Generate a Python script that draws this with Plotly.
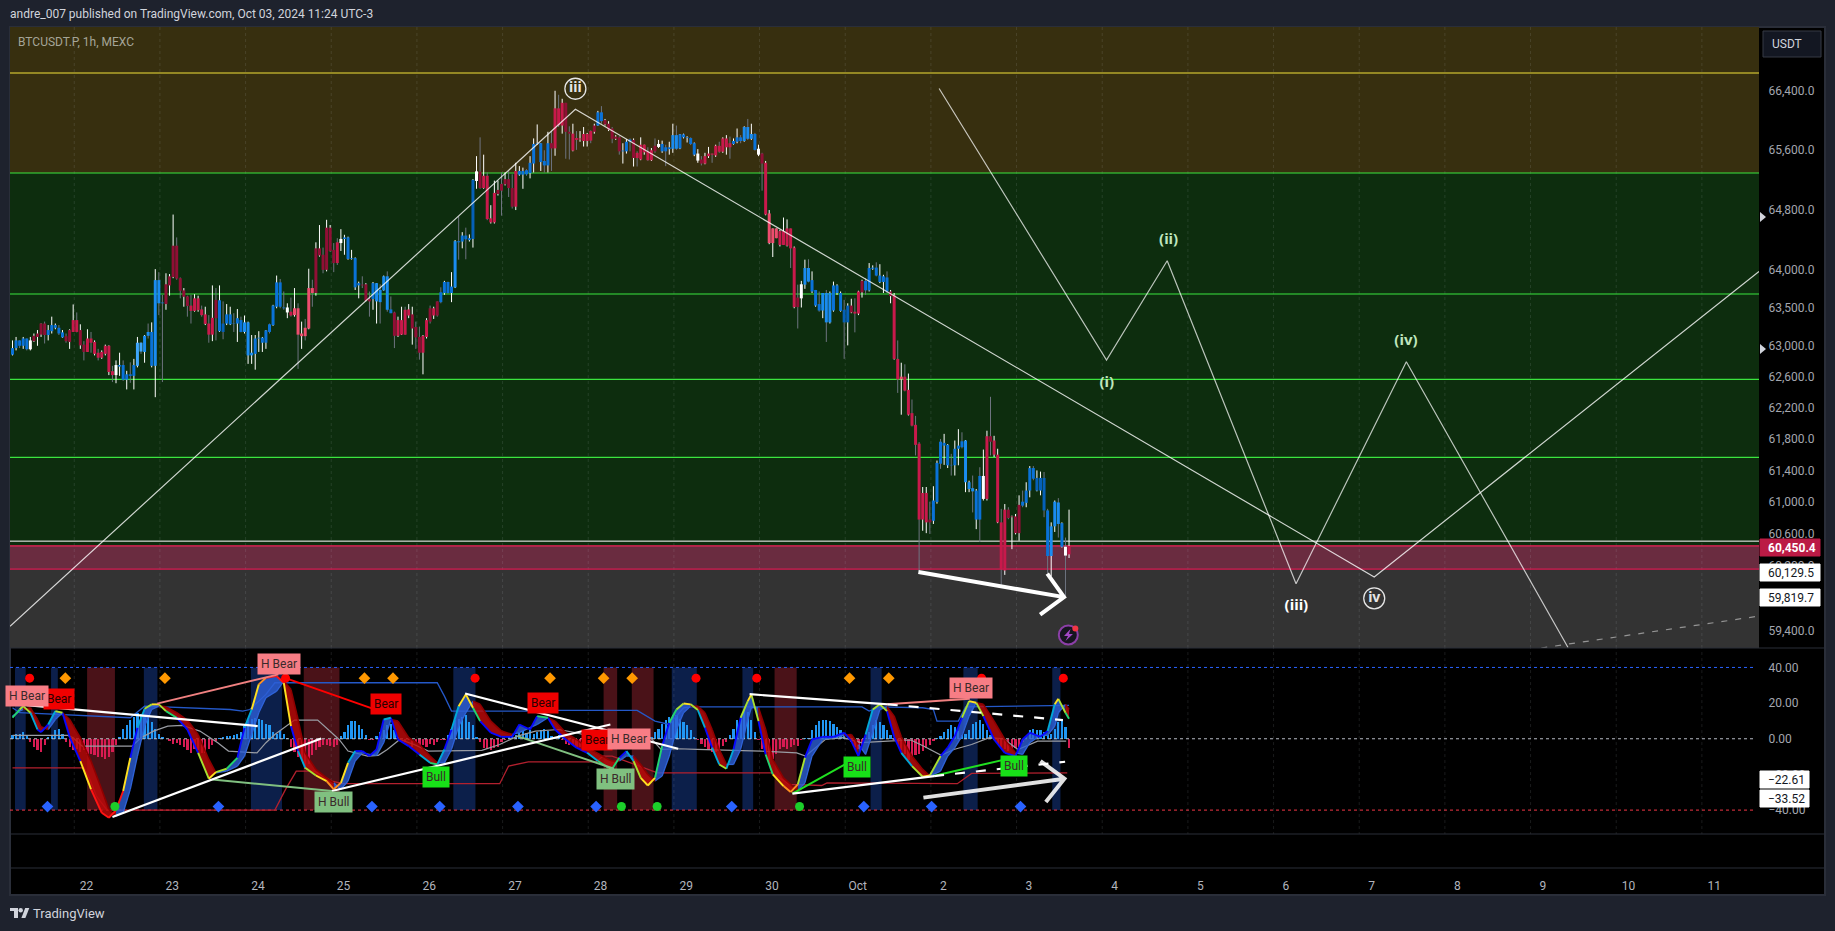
import math
import pandas as pd
import plotly.graph_objects as go

W, H = 1835, 931
PANEL = "#1e222d"
LINE = "#2a2e39"
FONT = "Roboto, 'Noto Sans', sans-serif"

# ---------------- candles (1h, BTCUSDT.P) ----------------
start_time = "2024-09-21 06:42"
open_ = [
62885,62970,63000,63000,62955,63070,63130,63160,63290,63290,
63140,63190,63235,63160,63110,63125,63205,63335,63335,63205,
63015,63095,63095,63050,62910,62920,63000,63000,62670,62750,
62730,62560,62560,62610,62610,62740,62925,62920,63130,62740,
62740,63555,63555,63805,63910,64315,64315,63885,63725,63645,
63525,63620,63620,63475,63410,63290,63365,63600,63190,63180,
63290,63280,63285,63290,63180,63180,62875,62875,62895,63095,
63040,63040,63180,63270,63510,63510,63490,63500,63445,63490,
63490,63160,63235,63755,63755,64280,64280,64195,64555,64555,
64260,64360,64405,64405,64140,64140,63765,63790,63800,63805,
63610,63610,63580,63570,63725,63470,63425,63435,63335,63335,
63470,63475,63410,63245,63115,63130,63335,63490,63490,63580,
63570,63690,63690,63690,63765,64360,64370,64400,64390,64405,
65310,65305,65250,65250,64680,65020,65060,65140,65205,65205,
65085,65315,65265,65265,65270,65285,65415,65680,65435,65390,
65390,65690,66165,66165,66240,66240,65845,65820,65760,65755,
65815,65815,65855,65930,65930,65990,66005,65955,65890,65780,
65770,65580,65580,65710,65735,65560,65670,65670,65580,65595,
65655,65680,65580,65580,65610,65615,65615,65620,65770,65760,
65680,65535,65550,65470,65515,65550,65550,65655,65655,65755,
65755,65690,65680,65710,65720,65720,65750,65750,65600,65615,
65550,65425,64745,64545,64545,64510,64510,64545,64545,64290,
63630,63805,63800,63840,63710,63525,63460,63460,63305,63305,
63460,63690,63455,63305,63305,63525,63445,63710,63850,63725,
63725,64010,63920,63835,63835,63710,63710,63660,62830,62600,
62600,62430,62130,61980,61740,61115,61115,60780,60765,61000,
61485,61715,61465,61465,61465,61675,61695,61250,61165,61135,
60780,60780,61330,61835,61835,61780,61600,60745,60905,60905,
60820,60820,60965,60955,60990,61145,61295,61145,61145,60895,
60325,60325,60695,60725,60440,60440,60345]
high = [
63070,63115,63072,63115,63095,63115,63160,63205,63290,63315,
63270,63380,63290,63270,63205,63160,63215,63540,63435,63280,
63060,63215,63180,63070,62960,62940,63015,63005,62740,62810,
62910,62810,62675,62785,62830,63115,63050,63140,63290,63305,
64005,63965,63665,63950,63940,64730,64425,63895,63755,63655,
63665,63675,63655,63525,63510,63400,63790,63755,63790,63580,
63545,63510,63425,63480,63380,63395,63315,63140,63140,63190,
63115,63205,63290,63535,63920,63875,63710,63555,63630,63755,
63555,63315,63350,64010,63865,64360,64590,64290,64660,64590,
64350,64415,64535,64460,64435,64260,64160,63840,63910,63820,
63710,63835,63820,63805,63920,63975,63645,63445,63380,63510,
63510,63545,63510,63315,63250,63140,63360,63525,63510,63580,
63765,63850,63840,63965,64390,64705,64495,64555,64465,65205,
65515,65770,65535,65295,64855,65185,65185,65295,65295,65315,
65270,65425,65380,65360,65340,65515,65755,65945,65690,65595,
65845,65855,66405,66350,66295,66240,65920,65955,65855,65855,
65910,65830,65865,65955,66130,66195,66020,65990,65910,65800,
65785,65690,65745,65755,65755,65580,65770,65670,65635,65625,
65755,65735,65725,65670,65710,65955,65930,65815,65820,65785,
65770,65700,65610,65515,65560,65640,65550,65670,65710,65770,
65800,65780,65755,65890,65800,65920,66020,65955,65830,65670,
65560,65450,64790,64545,64545,64525,64690,64665,64545,64305,
63800,63850,64130,64135,63975,63730,63710,63690,63730,63710,
63840,63805,63710,63600,63555,63615,63620,63720,63865,63885,
64085,64055,64095,64070,63930,63975,63730,63690,63070,62780,
62760,62640,62305,62095,61760,61190,61190,61005,61200,61525,
61800,61865,61735,61610,61780,61925,61885,61785,61270,61335,
61165,61440,61665,61905,62340,61840,61675,60915,60975,60935,
60830,60850,61085,61145,61250,61455,61455,61400,61385,61380,
60915,60745,61020,61050,60745,60555,60905]
low = [
62875,62940,62970,62960,62940,62940,63050,63000,63115,63030,
63070,63160,63215,63140,63105,63040,62960,63180,63175,62960,
62810,62920,62910,62875,62810,62830,62875,62620,62530,62515,
62610,62545,62435,62520,62435,62720,62895,62780,63095,62720,
62335,63400,62530,63470,63655,63885,63865,63620,63510,63380,
63290,63445,63445,63380,63270,63040,63060,63070,63180,63085,
63270,63270,63180,63050,63175,63160,62765,62765,62690,62920,
62920,62960,63160,63260,63490,63490,63470,63360,63380,63380,
62700,62960,63070,63215,63510,63655,64170,63950,63975,64240,
63965,64060,64245,64195,64130,64130,63730,63620,63755,63580,
63380,63470,63290,63290,63720,63445,63425,62970,63115,63140,
63140,63360,63015,62960,62820,62630,63095,63290,63350,63380,
63555,63665,63680,63570,63755,64130,64280,64135,64370,64290,
65075,65075,65075,64655,64610,64610,64985,64715,65120,64965,
64810,64790,65250,65075,65250,65215,65295,65670,65315,65295,
65295,65315,65520,65910,65820,65480,65470,65580,65600,65710,
65645,65645,65690,65820,65925,65955,65930,65855,65690,65735,
65535,65415,65550,65580,65375,65375,65460,65535,65450,65450,
65560,65625,65560,65380,65535,65560,65600,65610,65755,65700,
65665,65515,65425,65390,65405,65490,65425,65505,65560,65560,
65535,65480,65670,65690,65690,65710,65735,65735,65590,65515,
65050,64720,64335,64165,64415,64305,64325,64305,64020,63490,
63225,63500,63745,63830,63690,63510,63445,63360,63050,63290,
63445,63665,63445,62830,63005,63425,63175,63400,63630,63665,
63710,63995,63910,63820,63690,63690,63555,62820,62390,62110,
62410,62100,61960,61590,60130,60640,60610,60600,60725,60980,
61420,61470,61430,61335,61335,61465,61680,61125,61125,60870,
60660,60500,61020,61020,61590,61570,60735,59945,60090,60785,
60410,60595,60515,60935,60935,61060,61275,61135,61085,60810,
60110,60070,60625,60555,60430,59820,60300]
close = [
62970,63070,63070,63095,63095,62955,63060,63115,63145,63140,
63205,63270,63270,63235,63175,63060,63050,63180,63180,63005,
62920,62920,63040,62895,62845,62845,62895,62660,62620,62620,
62750,62750,62630,62630,62750,63040,63040,63130,63180,63180,
63860,63860,63565,63545,63790,63900,63880,63720,63640,63520,
63455,63455,63465,63400,63285,63145,63145,63360,63595,63290,
63410,63410,63290,63360,63335,63305,63305,62910,63095,63105,
63105,63200,63280,63525,63830,63830,63500,63435,63395,63400,
63145,63125,63125,63225,63690,63690,64185,63995,63995,64245,
64085,64085,64350,64425,64425,64150,64150,63820,63790,63590,
63580,63820,63820,63730,63910,63910,63475,63130,63130,63145,
63145,63395,63225,63110,62910,62910,63115,63315,63395,63395,
63700,63835,63835,63775,64375,64375,64450,64450,64415,65195,
65180,65085,65085,64670,64625,64625,65005,65050,65135,65085,
64835,64835,65315,65315,65325,65425,65680,65690,65690,65450,
65690,65620,65620,65930,65930,65845,65820,65590,65735,65740,
65720,65720,65725,65845,66110,66110,65945,65875,65750,65750,
65580,65590,65710,65740,65490,65490,65470,65567,65460,65460,
65580,65640,65680,65635,65635,65800,65800,65810,65810,65770,
65760,65690,65455,65415,65415,65515,65535,65525,65575,65575,
65635,65635,65720,65770,65770,65910,65910,65815,65815,65535,
65415,64730,64350,64350,64415,64325,64325,64315,64280,63505,
63505,63620,64020,64020,63860,63730,63545,63690,63690,63690,
63790,63790,63690,63470,63525,63435,63420,63420,63700,63850,
64020,64025,64025,63920,63910,63895,63650,62830,62565,62565,
62420,62110,61970,61725,60780,60780,60745,60745,61020,61495,
61765,61750,61725,61470,61675,61715,61770,61780,61250,61175,
61145,61330,61040,61040,61765,61600,60745,60155,60145,60800,
60810,60610,60610,61005,61145,61430,61430,61305,61305,61305,
60895,60695,61005,60995,60735,60330,60450.4]
candle_shade = (
"bbbbbwdddd" "bbbbbddrrd" "drrrrrrrrw" "bbbbbLLBBb" "BBbddddddd"
"rrrrrrrdbD" "bbbbbBBBbb" "bbbbbbbwrp" "pppppddddd" "drwbbbbbdd"
"dbBBBBbdrr" "rrdddrrdrd" "bbbbBbbbbD" "wdrrrrdddd" "drbbbbbbbb"
"bdrrrddrrr" "rrrdbbdddd" "dbbbdrrrrr" "dwbbbBBbbb" "bbwdrrrrrr"
"rrbbbBBBbw" "drppprrrrr" "dwBBbbbBBB" "bbbDDdrrdb" "bbbbbbdrrp"
"rrrrrrrdbb" "bbbbbbbBBB" "bbwrdrrrrd" "dddbbbbDDD" "bBBBbwr")
gray_wick_index = [2,4,9,13,15,18,20,22,24,28,31,33,36,38,41,42,46,47,49,50,53,55,57,59,62,64,72,75,
    76,78,80,82,84,87,90,91,98,100,103,105,106,107,110,113,114,117,119,120,122,125,127,131,133,137,
    139,140,144,149,151,153,155,156,158,162,165,168,170,173,175,178,180,183,186,190,193,196,198,201,
    204,206,208,210,218,220,223,226,228,233,236,239,242,245,248,250,252,253,254,257,260,263,266,269,
    271,274,277,279,283,286,289,290,293,295]
shade_color = {"b": "#0a72d8", "B": "#1a8cf0", "L": "#3fa6fb", "D": "#0560b8",
               "r": "#c8194b", "d": "#8f0f35", "p": "#ee4d6e", "w": "#ffffff"}

# ---------------- price levels ----------------
level_yellow = 66650
levels_green = [65287, 63678, 62565, 61566]
level_white = 60510
level_last = 60450.4
level_band_low = 60161
price_ticks = [66400,65600,64800,64000,63500,63000,62600,62200,61800,61400,61000,60600,60200,59400]
price_ticklabels = ["66,400.0","65,600.0","64,800.0","64,000.0","63,500.0","63,000.0","62,600.0","62,200.0",
                    "61,800.0","61,400.0","61,000.0","60,600.0","60,200.0","59,400.0"]

# ---------------- drawings on the price pane ----------------
path1_t = ["2024-09-21 06:00","2024-09-27 20:24","2024-10-07 04:12","2024-10-11 16:00"]
path1_p = [59457, 66153, 60065, 63975]
path2_t = ["2024-10-02 02:18","2024-10-04 01:12","2024-10-04 18:12","2024-10-06 06:18","2024-10-07 13:12","2024-10-09 10:30"]
path2_p = [66437, 62815, 64116, 59980, 62793, 59196]
dash_t = ["2024-10-09 03:00","2024-10-11 14:54"]
dash_p = [59190, 59574]
arrow_t = ["2024-10-01 20:30","2024-10-03 13:18","2024-10-03 08:36","2024-10-03 13:18","2024-10-03 06:36"]
arrow_p = [60125, 59815, 60105, 59815, 59600]
wave_txt = ["(i)","(ii)","(iii)","(iv)"]
wave_t = ["2024-10-04 01:18","2024-10-04 18:36","2024-10-06 06:24","2024-10-07 13:06"]
wave_p = [62516, 64383, 59706, 63054]
circ_txt = ["iii","iv"]
circ_t = ["2024-09-27 20:24","2024-10-07 04:12"]
circ_p = [66433, 59800]

# ---------------- oscillator pane ----------------
osc_i = [0,2,3,5,7,8,10,12,14,16,19,22,25,27,29,31,33,35,37,39,41,43,46,49,52,55,57,60,63,65,67,69,71,74,76,78,80,82,85,88,90,92,94,96,98,
         100,102,104,106,108,111,114,117,119,121,123,125,127,129,131,134,137,140,142,145,147,150,152,155,158,161,164,167,168,170,172,174,176,178,
         180,182,184,186,188,190,192,194,196,198,200,202,204,206,207,209,211,213,216,218,220,222,224,227,230,233,235,237,239,241,243,245,247,249,
         252,255,257,260,262,264,266,268,270,272,275,278,281,283,285,288,290,292,293,295,296]
osc_fast = [11.8,16.4,18.3,14.6,5.2,3.7,8.0,15.5,14.6,1.1,-12.5,-28.4,-41.5,-44.3,-40,-29.3,-10.7,6.2,16.8,19.3,19.3,15.5,11.8,5.2,-7.9,-22.4,-18.7,-16.8,-10.7,6.2,16.4,30.5,34.2,35.1,31.4,7.1,-6.9,-16.3,-20.6,-23.7,-28.4,-24.7,-13.5,-6.9,-6.9,
            -9.7,-6,10.8,11.8,-0.4,-4.1,-8.8,-13.5,-14.4,-6,5.2,18.3,24.9,17.4,9.9,3.4,1.1,1.1,8,5.2,12.7,11.8,5.2,-0.4,-5,-7.9,-12.5,-16.3,-16.8,-10.7,-6.9,-12.5,-21.9,-26.2,
            -21.9,-4.1,9,16.4,19.8,19.3,16.1,6.2,-5,-14.4,-16.8,-6,11.8,21.1,24.9,9.9,-8.8,-20,-26.5,-29.9,-25.6,-10.7,-0.4,1.1,1.1,3.4,-1.3,-9.7,2.4,16.4,19.3,15.5,1.1,-7.9,
            -15.3,-21.3,-20.6,-9.7,-5,1.5,11.8,21.1,20.2,12.7,-0.4,-7.9,-9.7,-0.4,3.4,1.1,4.3,19.3,22.4,14.6,11.2]
osc_slow = [12.7,15.5,16.4,17.4,10.8,6.7,5.2,10.8,14.6,10.8,0.6,-12.5,-28.4,-39.6,-43.4,-41.5,-28.4,-9.7,7.1,16.4,18.3,17.9,14.6,10.5,2.4,-11.6,-19.1,-18.1,-15.3,-9.7,2.4,14.6,23,26.7,32.3,27.7,10.8,-7.9,-17.2,-21.9,-24.7,-28.4,-23.7,-12.5,-7.9,
            -8.8,-9.3,-2.2,10.8,9.9,0.6,-3.2,-9.7,-13.5,-13.5,-6,7.1,14.6,21.1,19.3,9.9,4.3,2.4,3.4,6.2,8,11.8,9.9,3.4,-0.4,-5,-8.2,-11.6,-12.5,-12.5,-9.7,-9.7,-14.4,-20,
            -23.7,-20.9,-9.7,5.2,14.6,18.3,18.3,14.6,5.2,-6,-14.4,-14.4,-6,10.8,17.4,17.4,5.2,-11.6,-21.9,-25.6,-29.3,-24.7,-9.7,-0.4,0.7,1.9,2.4,-3.2,-8.8,3.4,16.4,17.9,12.7,1.1,
            -9.7,-17.2,-20.9,-18.1,-9.7,-5,1.5,12.7,20.2,19.3,9.9,-0.4,-7.9,-8.8,-2.2,1.9,1.9,7.1,14.6,19.3,16.4]
histogram = [
1.9,2.8,2.8,3.7,1.5,-1.9,-4.7,-6.5,-7.5,-3.7, .9,1.9,4.7,5.6,2.8,-1.9,-4.7,-6.5,-5.6,-7.5,
-6.5,-8.4,-8.4,-9.3,-10.3,-10.3,-11.2,-10.3,-7.5,-3.7, .9,5.6,7.5,10.3,12.1,14.6,14,13.1,11.6,9.3,
5.6,2.8,.9,-.4,-1.5,-2.8,-2.2,-3.7,-4.7,-6.5, -7.9,-5.6,-6.5,-7.9,-7.9,-5.6,-3.7,-1.5,.6,1.1,
1.5,1.5,1.9,2.8,3.7,7.1,10.3,11.2,11.6,11.2, 10.8,8.4,7.5,3.7,2.8,4.1,2.8,.6,-4.7,-7.5,
-10.3,-12.1,-16.8,-14,-9.3,-6.5,-4.7,-3.7,-3.4,-4.1, -4.7,-3.7,1.5,3.7,7.5,9.7,9.7,7.5,5.6,1.9,
-.6,-.6,1.5,3.7,4.7,7.5,8.4,4.7,.9,-.4, -1.9,-.9,-4.7,-1.9,-3.7,-3.4,-4.7,-2.8,-3.4,-1.9,
-.9,-.9,1.9,5.6,10.3,11.2,12.1,13.1,9.3,7.5, .9,-1.9,-5.2,-6,-6.5,-5.2,-4.7,-1.9,-.9,.9,
1.9,2.2,3.4,4.1,3.4,4.7,2.8,3.7,4.7,5.6, 4.1,1.5,.9,1.9,-.9,-2.8,-3.7,-3.7,-4.7,-4.7,
-3.7,-3.4,-3.7,-4.7,-4.7,-4.1,-5.2,-6.5,-5.6,-3.7, 1.9,2.8,4.7,3.7,-.9,-2.8,-4.7,-3.4,-.9,.9,
3.7,5.6,8.4,10.3,12.1,13.1,13.1,11.2,9.3,7.5, 4.7,.9,-.6,-2.8,-4.7,-6.5,-7.5,-7.5,-5.6,-4.1,
-1.9,1.9,5.6,10.3,12.1,15.9,15,10.3,3.7,-.9, -5.6,-8.4,-14,-11.2,-8.4,-5.6,-4.7,-5.6,-4.7,-3.7,
-4.1,-.9,.4,.6,4.7,7.5,9.7,10.8,10.8,9.7, 8.4,6.5,4.7,1.9,.6,-1.9,-4.7,-6,-3.7,.6,
3.7,7.5,10.3,9.3,7.9,4.7,1.9,-.9,-3.7,-6.5, -8.4,-12.1,-10.3,-9.3,-8.4,-7.1,-5.2,-3.4,-1.5,.4,
1.5,3.7,5.6,7.5,6.5,4.1,2.2,2.8,4.7,8.4, 9.3,10.3,8.4,4.7,1.9,-.9,-2.8,-4.7,-5.6,-7.1,
-5.6,-5.2,-4.7,-1.9,.9,4.7,5.6,5.2,5.2,3.7, 2.2,2.8,5.6,9.3,10.3,6.5,-5.2]
blue_i = [0,2,33,37,61,64.5,66.5,71,73.5,119,121,123,144.5,148,175,177,180,184,186,188,190,238,240,243,255,258,259,265,267,296]
blue_v = [17.4,14.6,11.8,18.3,16.4,15.5,16.4,24.9,31.4,31.4,23.9,15.5,15.5,15.9,15.9,13.6,9.9,8,12.7,17.4,17.9,17.9,15.5,17.9,17.4,16.4,9.9,9.9,17.9,18.7]
gray_i = [0,15.5,17,19.5,33.5,36,39.5,43.5,47.5,52.5,57.5,60.5,68.5,71,73.5,76.5,79,85.5,88.5,91.5,94,99.5,102.5,105,108.5,112.5,116.5,131.5,136.5,141.5,146.5,153,
          157.7,165.7,178.7,181.7,186.7,191.7,209.7,219.7,222.2,227.7,232.7,237.7,245.2,251.7,255.2,260.2,263.7,268.7,273.7,277.7,281.7,287.2,295.2]
gray_v = [1.9,1.9,.6,-4.1,-4.1,.6,4.3,7.1,7.5,4.3,-2.2,-6.9,-7.9,-2.2,2.4,7.1,10.5,10.5,5.2,-.4,-6.9,-9.7,-9.3,-6,-.4,-3.2,-6.9,-6.5,-3.2,1.5,4.3,5.2,
          3.4,-.4,.6,-6,-5.6,-6,-6.9,-7.9,-9.7,-.4,.6,-2.2,-1.3,-.7,-4.1,-9.3,-6,-3.2,.6,0,-6,-1.3,-1.3]
red_i = [0,20,21.5,23.5,26.5,73.5,76.5,79.5,84.5,89.5,92.5,136.5,139,144.5,163.5,165.5,168,180.7,212.7,217.7,226.7,228.2,264.7,268.7,295.5]
red_v = [-16.3,-16.3,-21.9,-32.1,-40,-40,-28.4,-18.1,-18.1,-23.7,-25.2,-25.2,-15.3,-12.9,-12.9,-9.7,-9.7,-19.1,-19.1,-25.6,-26.2,-24.7,-25.2,-19.4,-19.1]
osc_ticks = [40,20,0,-20,-40]
osc_ticklabels = ["40.00","20.00","0.00","−20.00","−40.00"]

blue_stripes = [(.7,3.7),(10.8,12.7),(36.8,40.6),(66.8,75.5),(123.5,129.7),(184.7,191.7),(204.5,207.5),(240.4,243.5),(266.4,270.4),(291.3,293.6)]
red_stripes = [(20.9,28.7),(81.6,91.6),(165.6,169.4),(173.5,179.6),(213.5,219.7)]
red_dot_i = [4.8,76.5,129.6,191.5,208.5,271.5,294.4]
orange_i = [14.8,42.7,98.6,106.6,150.6,165.6,173.6,234.5,245.5]
blue_diamond_i = [9.8,57.7,100.7,119.7,141.6,163.5,201.5,238.5,257.5,282.4]
green_dot_i = [28.7,91.5,170.6,180.6,220.5]
top_marker_v = 34
bottom_marker_v = -38

white_lines = [((4,18.9),(68.7,7.1)), ((28,-43.9),(86.5,.2)), ((89.5,-29.3),(167.5,8)),
               ((126.8,25.4),(186.5,-5.6)), ((206.5,25),(245.2,19.3)), ((218.5,-30.8),(258.2,-20.9))]
white_dashes = [((245.2,19.3),(294.3,10.5)), ((258.2,-20.9),(294.9,-12.9))]
arrow_osc = [(255.2,-33),(294.7,-22.4),(288,-12.5),(294.7,-22.4),(289.5,-35.5)]
colored_lines = [((40.5,19.7),(74.5,36.1),"#f08080"), ((76.5,34),(104.5,14.4),"#ff0000"),
                 ((56,-22.8),(89.5,-29.3),"#80c080"), ((141.5,1.5),(168.5,-16.8),"#80c080"),
                 ((245,19.3),(268.2,22.4),"#f08080"), ((218.5,-30.8),(235.7,-11.6),"#20e020"),
                 ((258,-20.9),(280,-10.7),"#20e020")]
labels_osc = [("Bear",13,22.1,"#f00000"),("H Bear",4,23.9,"#f77d85"),("H Bear",74.8,41.7,"#f77d85"),
              ("Bear",104.7,19.6,"#f00000"),("Bear",148.5,19.8,"#f00000"),("H Bull",90,-35.5,"#80c080"),
              ("Bull",118.7,-21.3,"#18e018"),("Bear",163.7,-.7,"#f00000"),("H Bear",172.7,-.4,"#f77d85"),
              ("H Bull",168.8,-22.6,"#80c080"),("Bull",236.5,-15.7,"#18e018"),("H Bear",268.5,28.6,"#f77d85"),
              ("Bull",280.5,-15.3,"#18e018")]
day_labels = ["22","23","24","25","26","27","28","29","30","Oct","2","3","4","5","6","7","8","9","10","11"]

# ---------------- helpers ----------------
t0 = pd.Timestamp(start_time)
def T(i):
    return (t0 + pd.Timedelta(hours=float(i))).strftime("%Y-%m-%d %H:%M:%S")
candle_t = [T(i) for i in range(len(close))]
X0, X1 = "2024-09-21 06:00", "2024-10-11 16:00"
days = pd.date_range("2024-09-22", periods=20)
day_grid = [d.strftime("%Y-%m-%d %H:%M") for d in days]
day_ticks = [(d + pd.Timedelta(hours=3.47)).strftime("%Y-%m-%d %H:%M") for d in days]
px = lambda x: x / W
py = lambda y: 1 - y / H

fig = go.Figure()
def add(**k):
    k.setdefault("hoverinfo", "skip")
    k.setdefault("showlegend", False)
    fig.add_trace(go.Scatter(**k))
def band(lo, hi, color):
    add(x=[X0, X1, X1, X0, X0], y=[lo, lo, hi, hi, lo], mode="lines", fill="toself",
        fillcolor=color, line=dict(width=0), xaxis="x", yaxis="y")
PMAX, PMIN = 67285, 59190
band(level_yellow, PMAX, "#372f0f")
band(levels_green[0], level_yellow, "#372f0f")
band(level_white, levels_green[0], "#0d2d0e")
band(level_last, level_white, "#0d2d0e")
band(level_band_low, level_last, "#6a2c40")
band(PMIN, level_band_low, "#333333")
def gx(vals):
    out = []
    for v in vals:
        out += [v, v, None]
    return out
add(x=gx(day_grid), y=[PMIN, PMAX, None] * len(day_grid), mode="lines", xaxis="x", yaxis="y",
    line=dict(color="rgba(200,205,215,0.13)", width=1, dash="dot"))
for lv, col, wd in [(level_yellow, "#f2e23a", 1.1)] + [(g, "#3be53f", 1.1) for g in levels_green] + [(level_white, "#ffffff", 1), (level_band_low, "#d81b52", 1.1)]:
    add(x=[X0, X1], y=[lv, lv], mode="lines", line=dict(color=col, width=wd), xaxis="x", yaxis="y")
add(x=[X0, X1], y=[level_last, level_last], mode="lines", line=dict(color="#f2205a", width=1.1), xaxis="x", yaxis="y")

# wicks
for colr, idx in [("#ffffff", [i for i in range(len(close)) if i not in gray_wick_index]),
                  ("#6e7480", gray_wick_index)]:
    xs, ys = [], []
    for i in idx:
        xs += [candle_t[i], candle_t[i], None]
        ys += [low[i], high[i], None]
    add(x=xs, y=ys, mode="lines", line=dict(color=colr, width=1), xaxis="x", yaxis="y")
# bodies
for key, colr in shade_color.items():
    xs, ys = [], []
    for i, s in enumerate(candle_shade):
        if s == key:
            xs += [candle_t[i], candle_t[i], None]
            ys += [open_[i], close[i], None]
    add(x=xs, y=ys, mode="lines", line=dict(color=colr, width=3), xaxis="x", yaxis="y")
# drawings
add(x=path1_t, y=path1_p, mode="lines", line=dict(color="rgba(255,255,255,0.8)", width=1.2), xaxis="x", yaxis="y")
add(x=path2_t, y=path2_p, mode="lines", line=dict(color="rgba(255,255,255,0.72)", width=1.2), xaxis="x", yaxis="y")
add(x=dash_t, y=dash_p, mode="lines", line=dict(color="rgba(190,190,190,0.7)", width=1.2, dash="6px,8px"), xaxis="x", yaxis="y")
add(x=arrow_t, y=arrow_p, mode="lines", line=dict(color="#ffffff", width=4), xaxis="x", yaxis="y")
for tx, tt, tp in zip(wave_txt, wave_t, wave_p):
    col = "#ffffff" if tx == "(iii)" else "#bfe6bd"
    add(x=[tt], y=[tp], mode="text", text=[f"<b>{tx}</b>"], textposition="middle center",
        textfont=dict(family="'Noto Sans'", size=15, color=col), xaxis="x", yaxis="y")
add(x=circ_t, y=circ_p, mode="markers+text", text=[f"<b>{c}</b>" for c in circ_txt], textposition="middle center",
    textfont=dict(family="'Noto Sans'", size=14, color="#e6e6e6"),
    marker=dict(size=21, color="rgba(0,0,0,0)", line=dict(color="#e6e6e6", width=1.3)), xaxis="x", yaxis="y")

# ------ oscillator pane
add(x=[X0, "2024-10-11 15:00"], y=[40, 40], mode="lines", line=dict(color="#2962ff", width=1, dash="dot"), xaxis="x2", yaxis="y2")
add(x=[X0, "2024-10-11 15:00"], y=[0, 0], mode="lines", line=dict(color="#b8bcc6", width=1, dash="dot"), xaxis="x2", yaxis="y2")
add(x=[X0, "2024-10-11 15:00"], y=[-40, -40], mode="lines", line=dict(color="#f23645", width=1, dash="dot"), xaxis="x2", yaxis="y2")
add(x=gx(day_grid), y=[-54, 51, None] * len(day_grid), mode="lines", xaxis="x2", yaxis="y2",
    line=dict(color="rgba(200,205,215,0.13)", width=1, dash="dot"))
fig.add_trace(go.Bar(x=candle_t, y=histogram, width=0.62 * 3600000, xaxis="x2", yaxis="y2", showlegend=False, hoverinfo="skip",
                     marker=dict(color=["#2196f3" if v >= 0 else "#d81b52" for v in histogram], line=dict(width=0))))
add(x=[T(i) for i in gray_i], y=gray_v, mode="lines", line=dict(color="#9a9da4", width=1.2), xaxis="x2", yaxis="y2")
add(x=[T(i) for i in blue_i], y=blue_v, mode="lines", line=dict(color="#2458c8", width=1.3), xaxis="x2", yaxis="y2")
add(x=[T(i) for i in red_i], y=red_v, mode="lines", line=dict(color="#b3202e", width=1.3), xaxis="x2", yaxis="y2")

# fills between the fast and slow wave
poly = {"up": ([], []), "down": ([], [])}
slow_seg = {"up": ([], []), "down": ([], [])}
for a in range(len(osc_i) - 1):
    key = "up" if osc_fast[a] + osc_fast[a + 1] >= osc_slow[a] + osc_slow[a + 1] else "down"
    ta, tb = T(osc_i[a]), T(osc_i[a + 1])
    poly[key][0].extend([ta, tb, tb, ta, ta, None])
    poly[key][1].extend([osc_fast[a], osc_fast[a + 1], osc_slow[a + 1], osc_slow[a], osc_fast[a], None])
    slow_seg[key][0].extend([ta, tb, None])
    slow_seg[key][1].extend([osc_slow[a], osc_slow[a + 1], None])
add(x=poly["up"][0], y=poly["up"][1], mode="lines", fill="toself", fillcolor="rgba(45,95,215,0.8)", line=dict(width=0), xaxis="x2", yaxis="y2")
add(x=poly["down"][0], y=poly["down"][1], mode="lines", fill="toself", fillcolor="rgba(190,10,10,0.82)", line=dict(width=0), xaxis="x2", yaxis="y2")
add(x=slow_seg["up"][0], y=slow_seg["up"][1], mode="lines", line=dict(color="#2f63d8", width=1.3), xaxis="x2", yaxis="y2")
add(x=slow_seg["down"][0], y=slow_seg["down"][1], mode="lines", line=dict(color="#8e0000", width=1.6), xaxis="x2", yaxis="y2")
# fast wave, coloured by distance from zero
bins = [(9, "#0808ff"), (12, "#00a8d8"), (15, "#22d470"), (19, "#a8e030"), (25, "#ffe020"), (33, "#ff9020"), (999, "#ff1414")]
for bi, (lim, colr) in enumerate(bins):
    xs, ys = [], []
    low_lim = bins[bi - 1][0] if bi else -1
    for a in range(len(osc_i) - 1):
        m = abs(osc_fast[a] + osc_fast[a + 1]) / 2
        if low_lim <= m < lim:
            xs += [T(osc_i[a]), T(osc_i[a + 1]), None]
            ys += [osc_fast[a], osc_fast[a + 1], None]
    add(x=xs, y=ys, mode="lines", line=dict(color=colr, width=1.9), xaxis="x2", yaxis="y2")
for a, b, colr in colored_lines:
    add(x=[T(a[0]), T(b[0])], y=[a[1], b[1]], mode="lines", line=dict(color=colr, width=2), xaxis="x2", yaxis="y2")
add(x=[T(i) for i in red_dot_i], y=[top_marker_v] * len(red_dot_i), mode="markers", marker=dict(symbol="circle", size=9, color="#ff0000"), xaxis="x2", yaxis="y2")
add(x=[T(i) for i in orange_i], y=[top_marker_v] * len(orange_i), mode="markers", marker=dict(symbol="diamond", size=9, color="#ff9800"), xaxis="x2", yaxis="y2")
add(x=[T(i) for i in blue_diamond_i], y=[bottom_marker_v] * len(blue_diamond_i), mode="markers", marker=dict(symbol="diamond", size=9, color="#2962ff"), xaxis="x2", yaxis="y2")
add(x=[T(i) for i in green_dot_i], y=[bottom_marker_v] * len(green_dot_i), mode="markers", marker=dict(symbol="circle", size=9, color="#1ccf2a"), xaxis="x2", yaxis="y2")
for a, b in white_lines:
    add(x=[T(a[0]), T(b[0])], y=[a[1], b[1]], mode="lines", line=dict(color="#ffffff", width=2.2), xaxis="x2", yaxis="y2")
for a, b in white_dashes:
    add(x=[T(a[0]), T(b[0])], y=[a[1], b[1]], mode="lines", line=dict(color="#ffffff", width=2.2, dash="10px,11px"), xaxis="x2", yaxis="y2")
add(x=[T(p[0]) for p in arrow_osc], y=[p[1] for p in arrow_osc], mode="lines", line=dict(color="rgba(255,255,255,0.88)", width=4), xaxis="x2", yaxis="y2")

# ------ layout
shapes = [
    dict(type="rect", xref="paper", yref="paper", x0=px(10), x1=px(1825), y0=py(895), y1=py(27),
         fillcolor="#000000", line=dict(color=LINE, width=2), layer="below"),
]
for (a, b), colr in [(s, "#0c1f4a") for s in blue_stripes] + [(s, "#4a1218") for s in red_stripes]:
    shapes.append(dict(type="rect", xref="x2", yref="y2", x0=T(a), x1=T(b), y0=-40, y1=40, fillcolor=colr, line=dict(width=0), layer="below"))
for yy in (648, 834, 868):
    shapes.append(dict(type="line", xref="paper", yref="paper", x0=px(10), x1=px(1825), y0=py(yy), y1=py(yy), line=dict(color=LINE, width=1), layer="above"))
def rect(x0, y0, x1, y1, fill, line=None):
    return dict(type="rect", xref="paper", yref="paper", x0=px(x0), x1=px(x1), y0=py(y1), y1=py(y0), fillcolor=fill,
                line=dict(color=line or fill, width=1), layer="above")
def poly_path(points, fill):
    d = "M " + " L ".join(f"{px(x):.5f},{py(y):.5f}" for x, y in points) + " Z"
    return dict(type="path", path=d, xref="paper", yref="paper", fillcolor=fill, line=dict(width=0), layer="above")
def circle(cx, cy, r, fill, line=None, lw=0):
    return dict(type="circle", xref="paper", yref="paper", x0=px(cx - r), x1=px(cx + r), y0=py(cy + r), y1=py(cy - r), fillcolor=fill,
                line=dict(color=line or fill, width=lw), layer="above")
shapes += [
    rect(1763, 31, 1821, 57, "#131722", "#363a45"),
    rect(1760, 539, 1820, 556, "#bb1b45"),
    rect(1760, 564, 1820, 581, "#ffffff"),
    rect(1760, 589, 1820, 606, "#ffffff"),
    rect(1760, 771, 1809, 788, "#ffffff"),
    rect(1760, 790, 1809, 807, "#ffffff"),
    poly_path([(1760, 212), (1760, 222), (1766, 217)], "#d1d4dc"),
    poly_path([(1760, 344), (1760, 354), (1766, 349)], "#d1d4dc"),
    # lightning badge
    circle(1068.3, 635, 9.5, "#16151f", "#8c3fa8", 2),
    poly_path([(1070.5, 629), (1064, 636), (1068, 636), (1065.5, 641), (1073, 634), (1069, 634)], "#a248c4"),
    circle(1075.3, 628.5, 3, "#f23645"),
    # TradingView logo
    poly_path([(10, 908), (18, 908), (18, 918), (14, 918), (14, 911), (10, 911)], "#d1d4dc"),
    circle(20.7, 910.3, 2.2, "#d1d4dc"),
    poly_path([(25.2, 908), (29.3, 908), (25.4, 918), (21.4, 918)], "#d1d4dc"),
]
def note(x, y, text, color, size=12, anchor="left", **k):
    return dict(xref="paper", yref="paper", x=px(x), y=py(y), text=text, showarrow=False, xanchor=anchor, yanchor="middle",
                font=dict(family=FONT, size=size, color=color), **k)
annotations = [
    note(8, 14, "andre_007 published on TradingView.com, Oct 03, 2024 11:24 UTC-3", "#d1d4dc", 12),
    note(15.5, 42, "BTCUSDT.P, 1h, MEXC", "#a5a597", 12),
    note(1769.5, 44, "USDT", "#d1d4dc", 12),
    note(1765.5, 547.5, "<b>60,450.4</b>", "#ffffff", 12),
    note(1765.5, 572.5, "60,129.5", "#131722", 12),
    note(1765.5, 597.5, "59,819.7", "#131722", 12),
    note(1765.5, 779.5, "−22.61", "#131722", 12),
    note(1765.5, 798.5, "−33.52", "#131722", 12),
    note(31, 913.5, "TradingView", "#d1d4dc", 13),
]
for txt, i, v, bg in labels_osc:
    annotations.append(dict(xref="x2", yref="y2", x=T(i), y=v, text=txt, showarrow=False, bgcolor=bg, borderpad=3,
                            font=dict(family=FONT, size=12, color="#3a2a2a" if bg != "#f00000" else "#2a0000")))

common_x = dict(range=[X0, X1], type="date", domain=[px(10), px(1759)], showgrid=False, zeroline=False, fixedrange=True)
fig.update_layout(
    width=W, height=H, autosize=False, margin=dict(l=0, r=0, t=0, b=0),
    paper_bgcolor=PANEL, plot_bgcolor="#000000", showlegend=False, hovermode=False, bargap=0,
    xaxis=dict(**common_x, anchor="y", showticklabels=False, ticks=""),
    yaxis=dict(type="log", domain=[py(648), py(27)], range=[math.log10(PMIN), math.log10(PMAX)], side="right", anchor="x",
               tickmode="array", tickvals=price_ticks, ticktext=price_ticklabels, showgrid=False, zeroline=False,
               ticks="outside", ticklen=6, tickcolor="rgba(0,0,0,0)", tickfont=dict(family=FONT, size=12, color="#a3a6af"), fixedrange=True),
    xaxis2=dict(**common_x, anchor="y2", tickmode="array", tickvals=day_ticks, ticktext=day_labels, ticks="outside", ticklen=41,
                tickcolor="rgba(0,0,0,0)", tickfont=dict(family=FONT, size=12, color="#b2b5be"), tickangle=0),
    yaxis2=dict(domain=[py(834), py(648)], range=[-53.4, 50.9], side="right", anchor="x2", tickmode="array", tickvals=osc_ticks,
                ticktext=osc_ticklabels, showgrid=False, zeroline=False, ticks="outside", ticklen=6, tickcolor="rgba(0,0,0,0)",
                tickfont=dict(family=FONT, size=12, color="#a3a6af"), fixedrange=True),
    shapes=shapes, annotations=annotations,
)
fig.write_html("out.html", config={"displayModeBar": False, "staticPlot": True},
               post_script="document.body.style.margin='0';document.body.style.background='#1e222d';document.documentElement.style.overflow='hidden';")
